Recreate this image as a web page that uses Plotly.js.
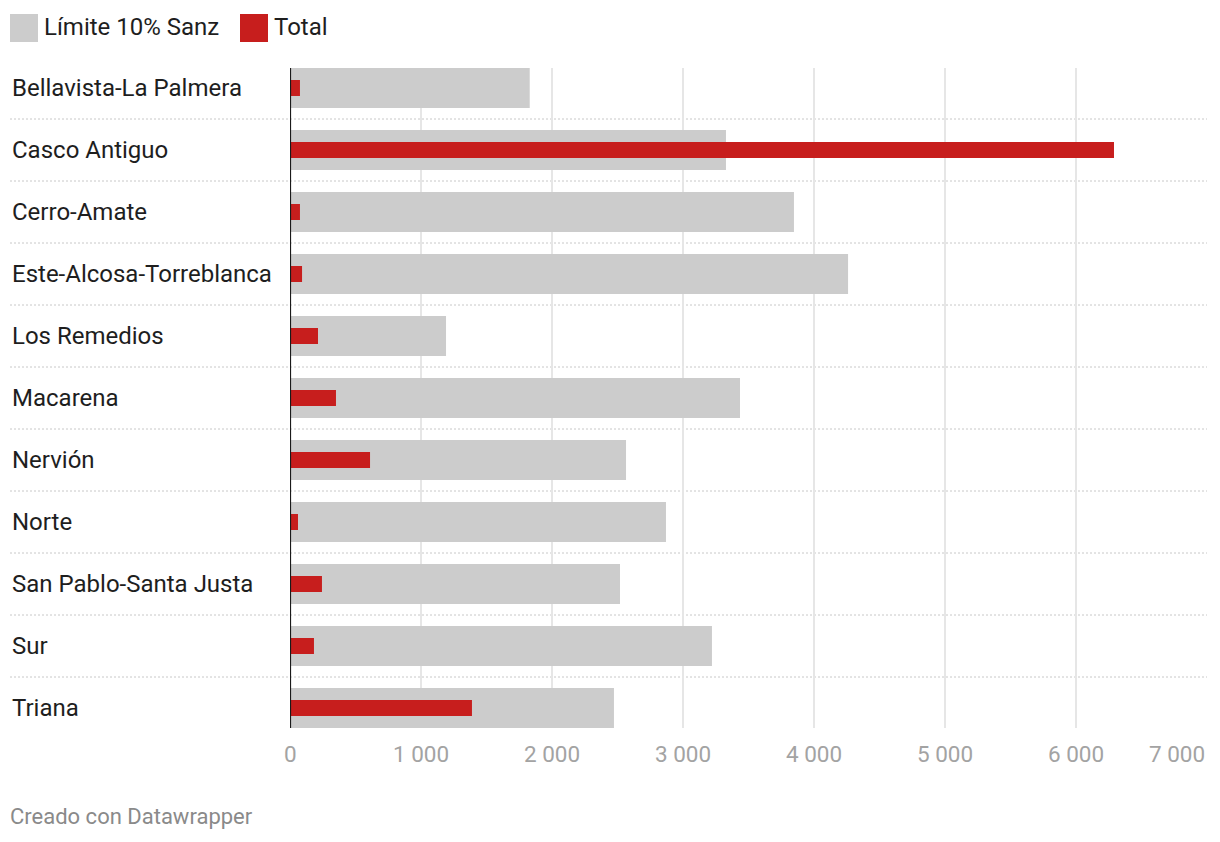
<!DOCTYPE html>
<html>
<head>
<meta charset="utf-8">
<script src="https://cdn.plot.ly/plotly-3.0.1.min.js"></script>
<style>
  html, body { margin: 0; padding: 0; background: #fff; }
  #chart { width: 1220px; height: 842px; }
</style>
</head>
<body>
<div id="chart"></div>
<script>
const categories = [
  "Bellavista-La Palmera", "Casco Antiguo", "Cerro-Amate", "Este-Alcosa-Torreblanca",
  "Los Remedios", "Macarena", "Nervión", "Norte", "San Pablo-Santa Justa", "Sur", "Triana"
];
const limite = [1830, 3328, 3847, 4260, 1191, 3435, 2565, 2870, 2519, 3221, 2473];
const total  = [76, 6290, 76, 92, 214, 351, 611, 61, 244, 183, 1389];
const seriesNames = ["Límite 10% Sanz", "Total"];
const xTicks = [0, 1000, 2000, 3000, 4000, 5000, 6000, 7000];
const xTickLabels = ["0", "1 000", "2 000", "3 000", "4 000", "5 000", "6 000", "7 000"];

const GRAY = "#cccccc", RED = "#c71e1d";
const idx = categories.map((_, i) => i);

const traces = [
  { type: "bar", orientation: "h", name: seriesNames[0], y: idx, x: limite,
    marker: { color: GRAY }, width: 0.645, hoverinfo: "skip", showlegend: false },
  { type: "bar", orientation: "h", name: seriesNames[1], y: idx, x: total,
    marker: { color: RED }, width: 0.258, hoverinfo: "skip", showlegend: false }
];

const PLOT_L = 290, PLOT_R = 1207, PLOT_T = 68, PLOT_B = 728;
const PW = PLOT_R - PLOT_L, PH = PLOT_B - PLOT_T;
const px2paper = p => (p - PLOT_L) / PW;
const py2paper = p => (PLOT_B - p) / PH;

const shapes = [];
for (let i = 0; i < categories.length - 1; i++) {
  shapes.push({ type: "line", xref: "paper", yref: "y", x0: px2paper(10), x1: 1,
    y0: i + 0.5, y1: i + 0.5, layer: "below",
    line: { color: "#c8c8c8", width: 1, dash: "2px,2px" } });
}
shapes.push({ type: "line", xref: "x", yref: "paper", x0: 0, x1: 0, y0: 0, y1: 1,
  layer: "above", line: { color: "#1a1a1a", width: 2.2 } });

// legend boxes
shapes.push({ type: "rect", xref: "paper", yref: "paper",
  x0: px2paper(10), x1: px2paper(38), y0: py2paper(42), y1: py2paper(14),
  fillcolor: GRAY, line: { width: 0 } });
shapes.push({ type: "rect", xref: "paper", yref: "paper",
  x0: px2paper(240), x1: px2paper(268), y0: py2paper(42), y1: py2paper(14),
  fillcolor: RED, line: { width: 0 } });

const TXT = "#1e1e1e";
const annotations = categories.map((c, i) => ({
  xref: "paper", yref: "y", x: px2paper(10), y: i, text: c, showarrow: false,
  xanchor: "left", yanchor: "middle", font: { family: "Roboto", size: 24, color: TXT }
}));
annotations.push({ xref: "paper", yref: "paper", x: px2paper(42), y: py2paper(27),
  text: seriesNames[0], showarrow: false, xanchor: "left", yanchor: "middle",
  font: { family: "Roboto", size: 24, color: TXT } });
annotations.push({ xref: "paper", yref: "paper", x: px2paper(272), y: py2paper(27),
  text: seriesNames[1], showarrow: false, xanchor: "left", yanchor: "middle",
  font: { family: "Roboto", size: 24, color: TXT } });
annotations.push({ xref: "paper", yref: "paper", x: px2paper(8), y: py2paper(816),
  text: "Creado con Datawrapper", showarrow: false, xanchor: "left", yanchor: "middle",
  font: { family: "Roboto", size: 22, color: "#8a8a8a" } });
xTicks.forEach((v, i) => {
  const last = i === xTicks.length - 1;
  annotations.push({ xref: "x", yref: "paper", x: v, y: py2paper(754),
    text: xTickLabels[i], showarrow: false, xanchor: last ? "right" : "center",
    yanchor: "middle",
    font: { family: "Roboto", size: 22.5, color: "#a3a3a3" } });
});

const layout = {
  width: 1220, height: 842,
  margin: { l: PLOT_L, r: 1220 - PLOT_R, t: PLOT_T, b: 842 - PLOT_B, pad: 0 },
  paper_bgcolor: "#fff", plot_bgcolor: "#fff",
  barmode: "overlay",
  showlegend: false,
  xaxis: {
    range: [0, 7000], tickvals: xTicks, showticklabels: false,
    showgrid: true, gridcolor: "#e6e6e6", gridwidth: 2,
    zeroline: false, showline: false, ticks: "",
    fixedrange: true
  },
  yaxis: {
    range: [categories.length - 1 + 20 / 62, -20 / 62],
    showticklabels: false, showgrid: false, zeroline: false, ticks: "",
    fixedrange: true
  },
  shapes, annotations,
  font: { family: "Roboto" }
};

Plotly.newPlot("chart", traces, layout, { displayModeBar: false, staticPlot: true });
</script>
</body>
</html>
